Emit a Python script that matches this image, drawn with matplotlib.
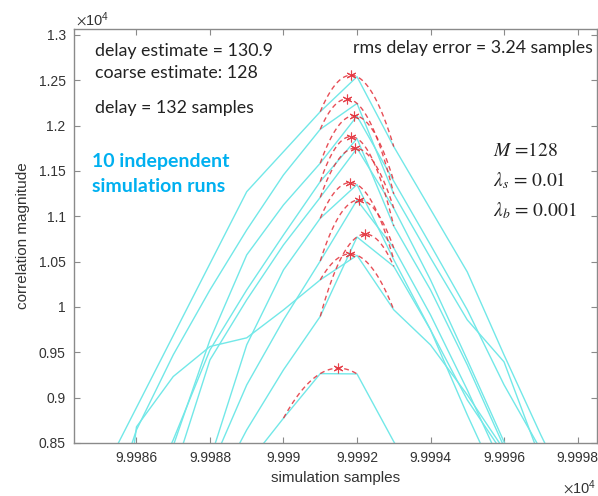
import numpy as np
import matplotlib
matplotlib.use("Agg")
import matplotlib.pyplot as plt
from matplotlib.ticker import FuncFormatter, FixedLocator

# ---------------- data (correlation magnitude, units of 1e4) ----------------
samples = np.arange(99984, 99999)  # simulation sample index

run1  = [0.730, 0.8097, 0.8891, 0.9685, 1.0479, 1.1272, 1.1713, 1.2154, 1.2540, 1.1769, 1.1078, 1.0387, 0.9472, 0.8590, 0.7763]
run2  = [0.633, 0.7433, 0.8645, 0.9472, 1.0189, 1.0850, 1.1457, 1.1960, 1.2245, 1.1247, 1.0542, 0.9858, 0.9395, 0.8315, 0.7210]
run3  = [0.589, 0.6660, 0.7433, 0.8469, 0.9638, 1.0575, 1.1126, 1.1586, 1.2106, 1.1388, 1.0685, 0.9969, 0.9142, 0.8425, 0.7543]
run4  = [0.567, 0.6660, 0.7653, 0.8535, 0.9527, 1.0189, 1.0795, 1.1383, 1.1858, 1.0893, 1.0189, 0.9362, 0.8458, 0.7543, 0.6600]
run5  = [0.545, 0.6330, 0.7212, 0.8149, 0.9417, 1.0079, 1.0685, 1.1209, 1.1750, 1.1090, 1.0299, 0.9417, 0.8513, 0.7653, 0.6800]
run6  = [0.512, 0.5890, 0.6771, 0.7653, 0.8314, 0.9583, 1.0409, 1.0978, 1.1350, 1.0522, 0.9748, 0.8976, 0.8370, 0.7543, 0.6700]
run7  = [0.501, 0.5780, 0.6660, 0.7433, 0.8204, 0.9141, 0.9858, 1.0507, 1.1179, 1.0651, 0.9913, 0.9086, 0.8204, 0.7433, 0.6600]
run8  = [0.479, 0.5560, 0.6330, 0.7102, 0.7874, 0.8645, 0.9307, 0.9896, 1.0772, 1.0448, 0.9748, 0.8811, 0.7929, 0.7100, 0.6300]
run9  = [0.520, 0.5500, 0.8678, 0.9233, 0.9564, 0.9660, 0.9968, 1.0299, 1.0570, 0.9969, 0.9582, 0.9031, 0.8425, 0.7653, 0.6800]
run10 = [0.550, 0.6000, 0.6500, 0.7000, 0.7700, 0.8260, 0.8774, 0.9265, 0.9262, 0.8515, 0.7800, 0.7000, 0.6300, 0.5600, 0.5000]
runs = [run1, run2, run3, run4, run5, run6, run7, run8, run9, run10]

x_ticks = [99986, 99988, 99990, 99992, 99994, 99996, 99998]
y_ticks = [0.85, 0.9, 0.95, 1.0, 1.05, 1.1, 1.15, 1.2, 1.25, 1.3]

# ---------------- figure ----------------
plt.rcParams["mathtext.fontset"] = "stix"
W, H = 598, 496
fig = plt.figure(figsize=(W / 100, H / 100), dpi=100)
ax = fig.add_axes([74 / W, 1 - 443 / H, (597 - 74) / W, (443 - 29) / H])

cyan = "#72e8e8"
red = "#e3303a"

for r in runs:
    y = np.asarray(r)
    ax.plot(samples, y, color=cyan, lw=1.0, zorder=2)
    i = int(np.argmax(y))
    xs = samples[i - 1:i + 2] - samples[i]
    coef = np.polyfit(xs, y[i - 1:i + 2], 2)
    t = np.linspace(-1, 1, 60)
    ax.plot(samples[i] + t, np.polyval(coef, t), color=red, lw=1.0,
            ls=(0, (3.5, 2.5)), alpha=0.85, zorder=3)
    tv = -coef[1] / (2 * coef[0])
    ax.plot(samples[i] + tv, np.polyval(coef, tv), marker=(6, 2, 0),
            color=red, ms=7, mew=0.8, alpha=0.9, zorder=4)

ax.set_xlim(99984.30, 99998.53)
ax.set_ylim(0.85, 1.3066)

spine_c = "#8a8a8a"
for s in ax.spines.values():
    s.set_color(spine_c)
    s.set_linewidth(1.0)
ax.xaxis.set_major_locator(FixedLocator(x_ticks))
ax.yaxis.set_major_locator(FixedLocator(y_ticks))
ax.xaxis.set_major_formatter(FuncFormatter(lambda v, p: ("%.4f" % (v / 1e4)).rstrip("0").rstrip(".")))
ax.yaxis.set_major_formatter(FuncFormatter(lambda v, p: "%g" % round(v, 3)))
ax.tick_params(direction="in", length=4, width=0.8, color=spine_c,
               labelcolor="#333333", labelsize=10, top=True, right=True,
               pad=6, labelfontfamily="Liberation Sans")

ax.set_xlabel("simulation samples", fontsize=11, color="#333333",
              family="Liberation Sans", labelpad=4)
ax.set_ylabel("correlation magnitude", fontsize=11, color="#333333",
              family="Liberation Sans", labelpad=6)

# offset labels (x10^4)
fig.text(76 / W, 1 - 20 / H, r"$\times\mathregular{10^4}$", fontsize=10.5,
         color="#333333", family="Liberation Sans", va="center", ha="left")
fig.text(596 / W, 1 - 488 / H, r"$\times\mathregular{10^4}$", fontsize=10.5,
         color="#333333", family="Liberation Sans", va="center", ha="right")

# annotations
tf = dict(family="Lato", color="#222222", fontsize=12.8, va="center", ha="left")
fig.text(95 / W, 1 - 51 / H, "delay estimate = 130.9", **tf)
fig.text(95 / W, 1 - 73 / H, "coarse estimate: 128", **tf)
fig.text(95 / W, 1 - 108 / H, "delay = 132 samples", **tf)
fig.text(353 / W, 1 - 48 / H, "rms delay error = 3.24 samples", **tf)

bf = dict(family="Lato", color="#00b0f0", fontsize=14, fontweight="bold",
          va="center", ha="left")
fig.text(92 / W, 1 - 162 / H, "10 independent", **bf)
fig.text(92 / W, 1 - 187 / H, "simulation runs", **bf)

mf = dict(color="#222222", fontsize=14, va="center", ha="left", family="STIXGeneral")
fig.text(493 / W, 1 - 151 / H, r"$M$ =128", **mf)
fig.text(493 / W, 1 - 181 / H, r"$\lambda_s$ = 0.01", **mf)
fig.text(493 / W, 1 - 211 / H, r"$\lambda_b$ = 0.001", **mf)

fig.savefig("out.png", dpi=100)
